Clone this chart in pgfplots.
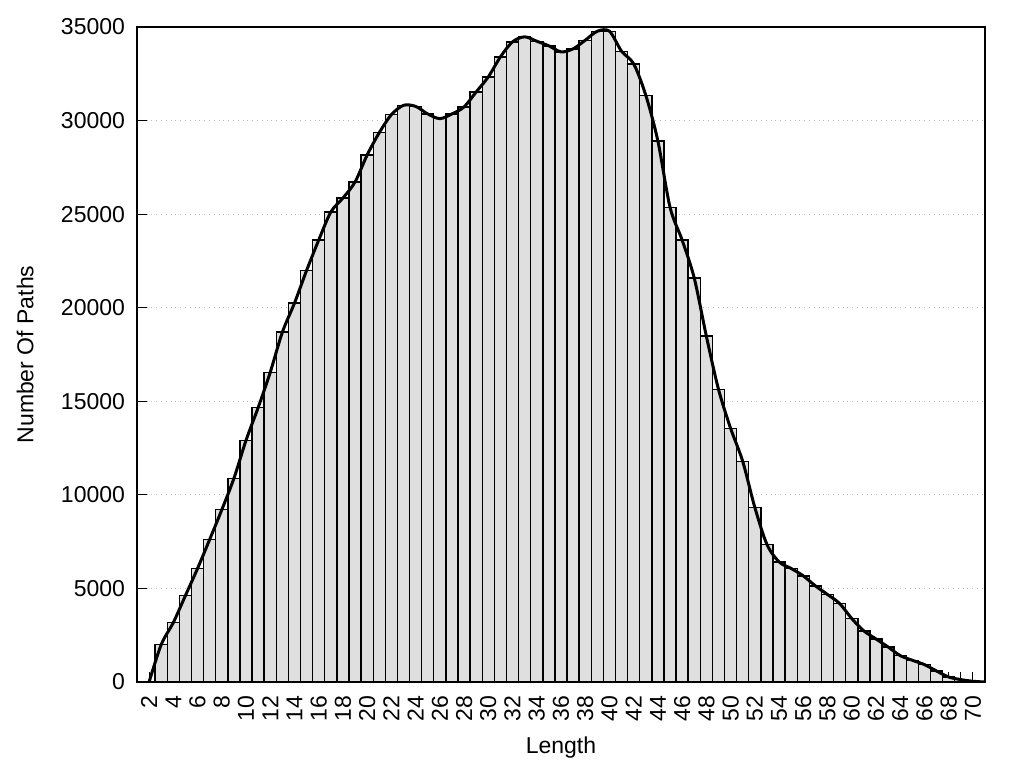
\documentclass[border=0pt]{standalone}
\usepackage{fontspec}
\setmainfont{Liberation Sans}
\usepackage{pgfplots}
\pgfplotsset{compat=1.18}
\definecolor{barfill}{HTML}{DFDFDF}
\definecolor{gridgray}{HTML}{BBBBBB}

\begin{document}
\begin{tikzpicture}
\path[use as bounding box] (-68.5pt,-43pt) rectangle (443.5pt,341pt);
\begin{axis}[
  at={(0,0)}, anchor=south west,
  scale only axis,
  width=424pt, height=327.5pt,
  xmin=1, xmax=71,
  ymin=0, ymax=35000,
  xtick={2,4,...,70},
  minor xtick={3,5,...,69},
  ytick={0,5000,...,35000},
  scaled y ticks=false,
  /pgf/number format/assume math mode=true,
  yticklabel={\pgfmathprintnumber[fixed,1000 sep={}]{\tick}},
  xtick pos=bottom, ytick pos=left,
  tick align=inside,
  major tick length=5pt, minor tick length=5pt,
  tick style={black, line width=0.6pt},
  axis line style={line width=0.8pt},
  ymajorgrids,
  grid style={gridgray, dotted, line width=0.5pt},
  every tick label/.append style={font=\fontsize{11.5}{14}\selectfont},
  xticklabel style={rotate=90, anchor=east},
  xticklabel shift=3.5pt,
  yticklabel shift=2.5pt,
  label style={font=\fontsize{11.5}{14}\selectfont},
  xlabel={Length},
  ylabel={Number Of Paths},
  xlabel style={at={(axis description cs:0.5,-0.1008)}, anchor=center},
  ylabel style={at={(axis description cs:-0.132,0.5)}, anchor=center},
]
\addplot[ybar, bar width=1, bar shift=0pt, fill=barfill, draw=black, line width=0.7pt]
  coordinates {
  (3,2000) (4,3178) (5,4622) (6,6067) (7,7617) (8,9203) (9,10880) (10,12913)
  (11,14660) (12,16553) (13,18693) (14,20245) (15,21990) (16,23615) (17,25113)
  (18,25862) (19,26718) (20,28162) (21,29355) (22,30318) (23,30816) (24,30760)
  (25,30356) (26,30104) (27,30356) (28,30730) (29,31533) (30,32335) (31,33405)
  (32,34208) (33,34475) (34,34240) (35,33994) (36,33673) (37,33833) (38,34293)
  (39,34775) (40,34775) (41,33705) (42,33031) (43,31352) (44,28900) (45,25370)
  (46,23615) (47,21582) (48,18479) (49,15643) (50,13557) (51,11791) (52,9330)
  (53,7351) (54,6420) (55,6067) (56,5671) (57,5136) (58,4676) (59,4194)
  (60,3392) (61,2729) (62,2301) (63,1873) (64,1412) (65,1161) (66,931)
  (67,588) (68,268) (69,128) (70,40)
  };
\addplot[smooth, black, line width=1.5pt]
  coordinates {
  (2,0) (3,2000) (4,3178) (5,4622) (6,6067) (7,7617) (8,9203) (9,10880) (10,12913)
  (11,14660) (12,16553) (13,18693) (14,20245) (15,21990) (16,23615) (17,25113)
  (18,25862) (19,26718) (20,28162) (21,29355) (22,30318) (23,30816) (24,30760)
  (25,30356) (26,30104) (27,30356) (28,30730) (29,31533) (30,32335) (31,33405)
  (32,34208) (33,34475) (34,34240) (35,33994) (36,33673) (37,33833) (38,34293)
  (39,34775) (40,34775) (41,33705) (42,33031) (43,31352) (44,28900) (45,25370)
  (46,23615) (47,21582) (48,18479) (49,15643) (50,13557) (51,11791) (52,9330)
  (53,7351) (54,6420) (55,6067) (56,5671) (57,5136) (58,4676) (59,4194)
  (60,3392) (61,2729) (62,2301) (63,1873) (64,1412) (65,1161) (66,931)
  (67,588) (68,268) (69,128) (70,40) (71,0)
  };
\end{axis}
\end{tikzpicture}
\end{document}
